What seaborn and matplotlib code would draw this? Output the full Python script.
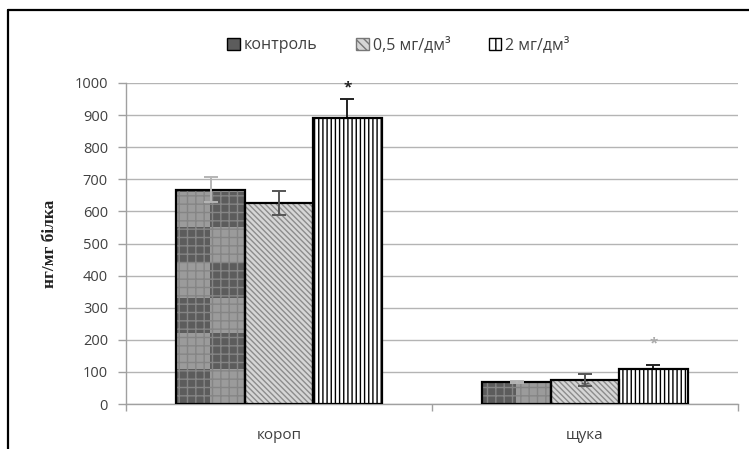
"""
Вміст показника (нг/мг білка) у коропа та щуки
за різних концентрацій у воді — відтворення стовпчикової діаграми
"""

import numpy as np
import pandas as pd
import matplotlib
matplotlib.use('Agg')
import matplotlib.pyplot as plt
from matplotlib.patches import Patch, Rectangle
from matplotlib.lines import Line2D
import seaborn as sns

# ─────────────────────────────────────────────
# DATA
# ─────────────────────────────────────────────
species = ['короп', 'щука']
groups = ['контроль', '0,5 мг/дм³', '2 мг/дм³']
values = {
    'контроль':   [668, 68],
    '0,5 мг/дм³': [626, 75],
    '2 мг/дм³':   [892, 110],
}
errors = {
    'контроль':   [40, 4],
    '0,5 мг/дм³': [37, 18],
    '2 мг/дм³':   [58, 10],
}
# significance marks: (group, species index, y of mark, colour)
stars = [
    ('2 мг/дм³', 0, 985, '#222222'),
    ('2 мг/дм³', 1, 190, '#aaaaaa'),
    ('0,5 мг/дм³', 1, 50, '#555555'),
]
yticks = list(range(0, 1001, 100))

df = pd.DataFrame([
    {'species': s, 'group': g, 'value': values[g][i]}
    for g in groups for i, s in enumerate(species)
])

# ─────────────────────────────────────────────
# STYLE
# ─────────────────────────────────────────────
sns.set_style("white")
FONT = ['Open Sans', 'DejaVu Sans']
plt.rcParams['font.family'] = FONT
TXT = '#404040'

fig = plt.figure(figsize=(7.49, 4.49), dpi=100)
ax = fig.add_axes([126 / 749, 1 - 404 / 449, 612 / 749, 321 / 449])

sns.barplot(data=df, x='species', y='value', hue='group', order=species,
            hue_order=groups, errorbar=None, width=0.67, ax=ax,
            palette=['#777777', '#d6d6d6', 'white'], legend=False, saturation=1)

# ─────────────────────────────────────────────
# FILLS: checkerboard / diagonal / vertical lines
# ─────────────────────────────────────────────
fills = {
    'контроль':   dict(hatch='++', ec='#858585'),
    '0,5 мг/дм³': dict(hatch='\\\\\\\\\\\\', ec='#8c8c8c'),
    '2 мг/дм³':   dict(hatch='||||', ec='black'),
}
for g, cont in zip(groups, ax.containers):
    for p in cont.patches:
        p.set_hatch(fills[g]['hatch'])
        p.set_edgecolor(fills[g]['ec'])
        p.set_linewidth(0)
        p.set_zorder(2)
        x0, w, h = p.get_x(), p.get_width(), p.get_height()
        if g == 'контроль':
            p.set_facecolor('none')
            nrows = int(np.ceil(h / 110)) + 1
            board = np.indices((nrows, 2)).sum(axis=0) % 2
            im = ax.imshow(board, cmap=matplotlib.colors.ListedColormap(['#5c5c5c', '#9b9b9b']),
                           extent=[x0, x0 + w, 0, nrows * 110], origin='lower',
                           aspect='auto', interpolation='nearest', zorder=1.5)
            im.set_clip_path(p)
        ax.add_patch(Rectangle((x0, 0), w, h, fill=False, ec='black', lw=1.6, zorder=2.6))

# error bars (the 2 мг/дм³ ones sit behind their bars, as in the original)
err_col = {'контроль': '#b5b5b5', '0,5 мг/дм³': '#555555', '2 мг/дм³': '#222222'}
err_z = {'контроль': 3, '0,5 мг/дм³': 3, '2 мг/дм³': 1.9}
for g, cont in zip(groups, ax.containers):
    xs = [p.get_x() + p.get_width() / 2 for p in cont.patches]
    ax.errorbar(xs, values[g], yerr=errors[g], fmt='none', ecolor=err_col[g],
                elinewidth=1.4, capsize=5, capthick=1.4, zorder=err_z[g])

# stars
for g, i, y, c in stars:
    p = ax.containers[groups.index(g)].patches[i]
    ax.text(p.get_x() + p.get_width() / 2, y, '*', ha='center', va='center',
            fontsize=11, color=c, fontweight='bold', zorder=4)

# ─────────────────────────────────────────────
# AXES
# ─────────────────────────────────────────────
ax.set_xlim(-0.5, 1.5)
ax.set_ylim(0, 1000)
ax.set_yticks(yticks)
ax.set_yticklabels([str(t) for t in yticks], fontsize=10.5, color=TXT)
ax.yaxis.grid(True, color='#b4b4b4', lw=1)
ax.set_axisbelow(True)
ax.tick_params(axis='y', length=6, width=1, color='#a0a0a0', pad=7, left=True)
ax.set_xticks([0, 1])
ax.set_xticklabels(species, fontsize=11, color=TXT)
ax.tick_params(axis='x', length=0, pad=17)
ax.set_xticks([-0.5, 0.5, 1.5], minor=True)
ax.tick_params(axis='x', which='minor', length=5, width=1, color='#a0a0a0', bottom=True)
ax.set_xlabel('')
ax.set_ylabel('нг/мг білка', fontsize=12.5, fontweight='bold',
              family=['Liberation Serif', 'DejaVu Serif'], color='#222222', labelpad=12)
for side in ['top', 'right']:
    ax.spines[side].set_visible(False)
for side in ['left', 'bottom']:
    ax.spines[side].set_color('#a0a0a0')
    ax.spines[side].set_linewidth(1)

# legend
handles = [
    Patch(facecolor='#5c5c5c', edgecolor='black', lw=1),
    Patch(facecolor='#d6d6d6', edgecolor='#777777', hatch='\\\\\\\\', lw=1),
    Patch(facecolor='white', edgecolor='black', hatch='||', lw=1),
]
fig.legend(handles, groups, loc='center', bbox_to_anchor=(0.532, 0.9), ncol=3,
           frameon=False, fontsize=11.5, handlelength=0.8, handleheight=0.8,
           handletextpad=0.25, columnspacing=2.4, labelcolor=TXT)

# outer frame (left & top edges visible)
fx, fy = 8 / 749, 1 - 10 / 449
fig.add_artist(Line2D([fx, fx], [0, fy], color='black', lw=1.6, transform=fig.transFigure))
fig.add_artist(Line2D([fx, 1], [fy, fy], color='black', lw=1.6, transform=fig.transFigure))

plt.savefig('out.png', dpi=100)
plt.close()
